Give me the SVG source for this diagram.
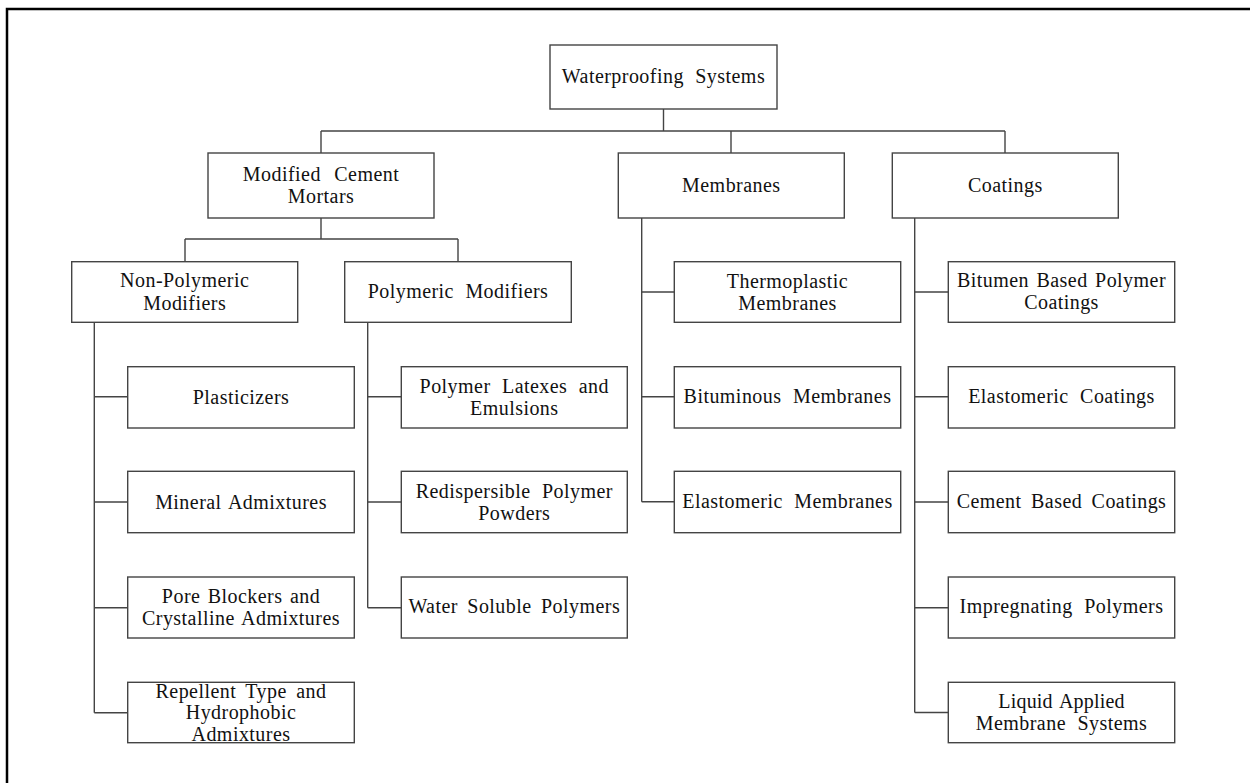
<svg xmlns="http://www.w3.org/2000/svg" width="1250" height="783" viewBox="0 0 1250 783">
<style>
.box{fill:#fff;stroke:#444;stroke-width:1.4}
.ln{fill:none;stroke:#444;stroke-width:1.4}
text{font-family:"Liberation Serif","Times New Roman",serif;font-size:20px;fill:#111;text-anchor:middle;letter-spacing:0.45px;word-spacing:2px}
</style>
<rect x="0" y="0" width="1250" height="783" fill="#fff"/>
<path d="M5.75 9 H1250 M7 7.75 V783" fill="none" stroke="#000" stroke-width="2.5"/>
<g id="connectors" class="ln">
<path d="M663.5 109 V131 M321 131 H1005 M321 131 V153 M731 131 V153 M1005 131 V153"/>
<path d="M321 218 V239 M185 239 H458 M185 239 V262 M458 239 V262"/>
<path d="M94.3 322 V712.7 M94.3 396.7 H128 M94.3 502 H128 M94.3 607.7 H128 M94.3 712.7 H128"/>
<path d="M367.7 322 V607.7 M367.7 396.7 H401.3 M367.7 502 H401.3 M367.7 607.7 H401.3"/>
<path d="M641.7 218 V501.7 M641.7 292 H674.3 M641.7 396.7 H674.3 M641.7 501.7 H674.3"/>
<path d="M914.7 218 V712.5 M914.7 292 H948.3 M914.7 396.7 H948.3 M914.7 502 H948.3 M914.7 607.7 H948.3 M914.7 712.5 H948.3"/>
</g>
<g id="root"><rect class="box" x="550" y="45" width="227" height="64"/><text x="663.5" y="83" style="word-spacing:6px">Waterproofing Systems</text></g>
<g id="mcm"><rect class="box" x="208" y="153" width="226" height="65"/><text x="321" y="181" style="word-spacing:8px">Modified Cement</text><text x="321" y="202.5">Mortars</text></g>
<g id="membranes"><rect class="box" x="618.3" y="153" width="226" height="65"/><text x="731.3" y="192">Membranes</text></g>
<g id="coatings"><rect class="box" x="892.3" y="153" width="226" height="65"/><text x="1005.3" y="192">Coatings</text></g>
<g id="nonpoly"><rect class="box" x="71.7" y="261.7" width="226" height="60.6"/><text x="184.7" y="287.3">Non-Polymeric</text><text x="184.7" y="310">Modifiers</text></g>
<g id="poly"><rect class="box" x="344.7" y="261.7" width="226.6" height="60.6"/><text x="458" y="298.3" style="word-spacing:6px">Polymeric Modifiers</text></g>
<g id="plasticizers"><rect class="box" x="127.7" y="366.7" width="226.6" height="61.3"/><text x="241" y="404">Plasticizers</text></g>
<g id="mineral"><rect class="box" x="127.7" y="471.3" width="226.6" height="61.4"/><text x="241" y="509.3">Mineral Admixtures</text></g>
<g id="pore"><rect class="box" x="127.7" y="577" width="226.6" height="61"/><text x="241" y="603.3">Pore Blockers and</text><text x="241" y="625">Crystalline Admixtures</text></g>
<g id="repellent"><rect class="box" x="127.7" y="682.3" width="226.6" height="60.4"/><text x="241" y="697.5" style="word-spacing:4px">Repellent Type and</text><text x="241" y="719">Hydrophobic</text><text x="241" y="740.5">Admixtures</text></g>
<g id="latex"><rect class="box" x="401.3" y="366.7" width="226" height="61.3"/><text x="514.3" y="393" style="word-spacing:6px">Polymer Latexes and</text><text x="514.3" y="414.5">Emulsions</text></g>
<g id="redisp"><rect class="box" x="401.3" y="471.3" width="226" height="61.4"/><text x="514.3" y="498" style="word-spacing:6px">Redispersible Polymer</text><text x="514.3" y="519.5">Powders</text></g>
<g id="watersol"><rect class="box" x="401.3" y="577" width="226" height="61"/><text x="514.3" y="613.3" style="word-spacing:4px">Water Soluble Polymers</text></g>
<g id="thermo"><rect class="box" x="674.3" y="261.7" width="226.4" height="60.6"/><text x="787.5" y="288.3">Thermoplastic</text><text x="787.5" y="310">Membranes</text></g>
<g id="bitum"><rect class="box" x="674.3" y="366.7" width="226.4" height="61.3"/><text x="787.5" y="403.3" style="word-spacing:6px">Bituminous Membranes</text></g>
<g id="elastm"><rect class="box" x="674.3" y="471.3" width="226.4" height="61.4"/><text x="787.5" y="508.3" style="word-spacing:6px">Elastomeric Membranes</text></g>
<g id="bitcoat"><rect class="box" x="948.3" y="261.7" width="226.4" height="60.6"/><text x="1061.5" y="287.3">Bitumen Based Polymer</text><text x="1061.5" y="309.3">Coatings</text></g>
<g id="elastc"><rect class="box" x="948.3" y="366.7" width="226.4" height="61.3"/><text x="1061.5" y="403.3" style="word-spacing:6px">Elastomeric Coatings</text></g>
<g id="cement"><rect class="box" x="948.3" y="471.3" width="226.4" height="61.4"/><text x="1061.5" y="508.3" style="word-spacing:4px">Cement Based Coatings</text></g>
<g id="impreg"><rect class="box" x="948.3" y="577" width="226.4" height="61"/><text x="1061.5" y="613.3" style="word-spacing:6px">Impregnating Polymers</text></g>
<g id="liquid"><rect class="box" x="948.3" y="682.3" width="226.4" height="60.4"/><text x="1061.5" y="708" style="letter-spacing:0.2px">Liquid Applied</text><text x="1061.5" y="729.5" style="word-spacing:6px">Membrane Systems</text></g>
</svg>
